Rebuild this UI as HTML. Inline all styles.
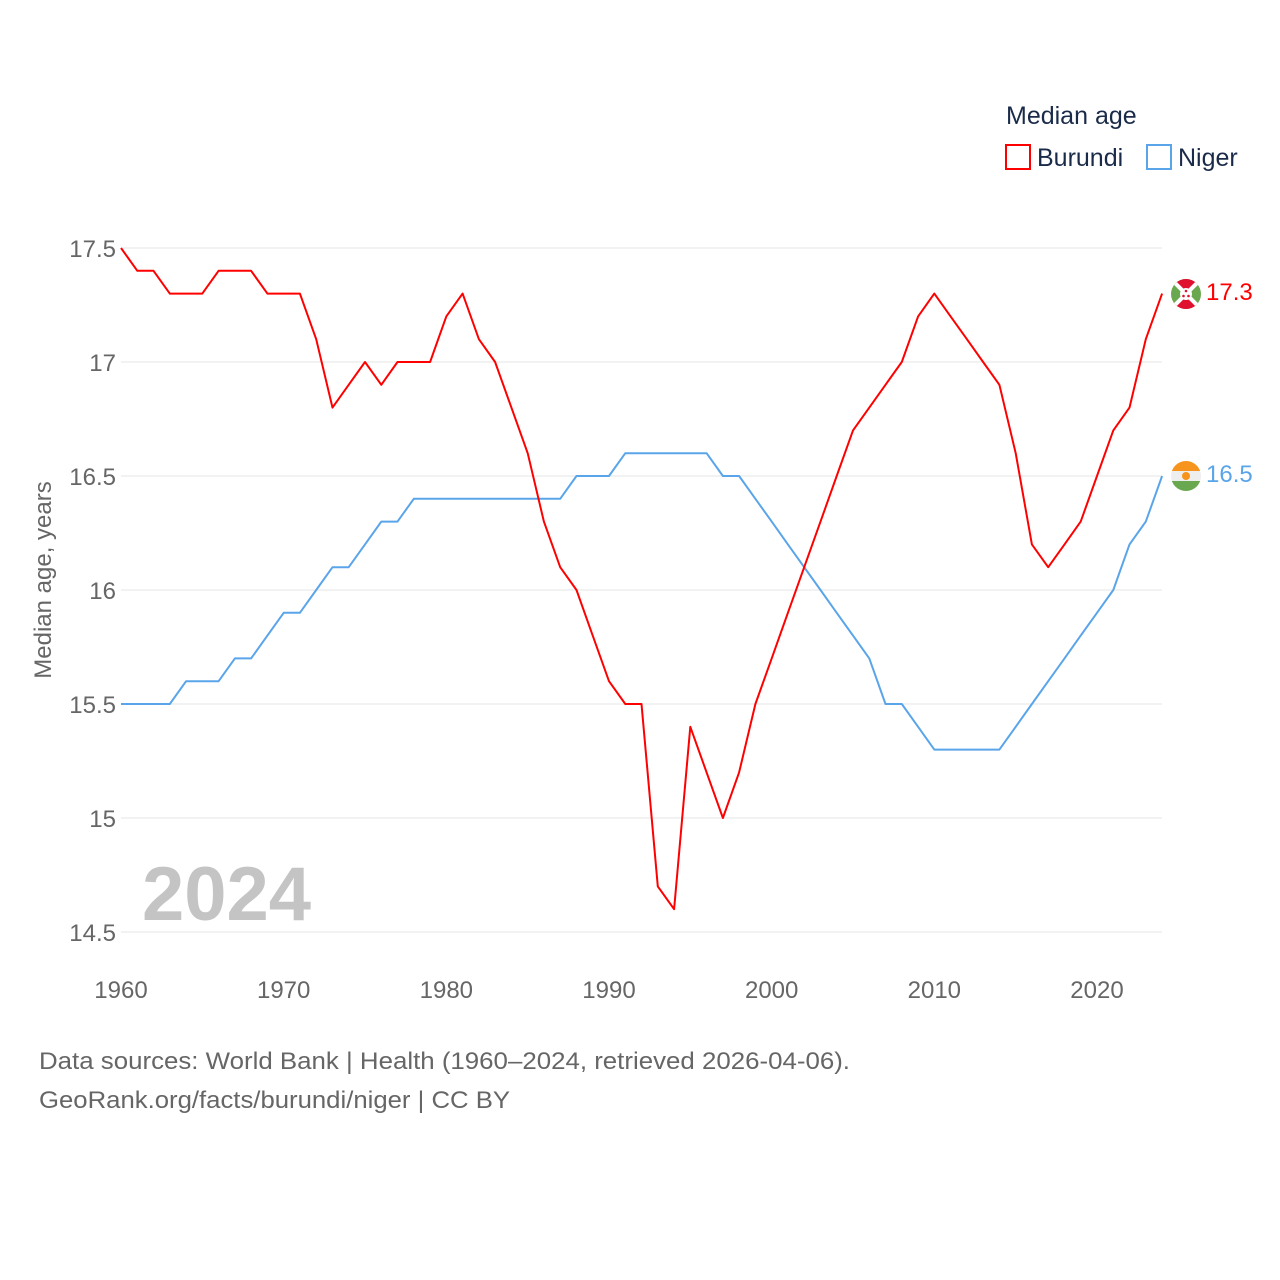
<!DOCTYPE html>
<html><head><meta charset="utf-8">
<style>
body{margin:0;background:#fff;font-family:"Liberation Sans",sans-serif;}
svg{display:block}
</style></head>
<body>
<svg id="chart" width="1280" height="1280" viewBox="0 0 1280 1280" xmlns="http://www.w3.org/2000/svg" font-family="Liberation Sans, sans-serif">
  <rect x="0" y="0" width="1280" height="1280" fill="#fff"/>
  <g>
    <text x="1006" y="124" font-size="25" fill="#1a2b4a">Median age</text>
    <g>
      <rect x="1006" y="145" width="24" height="24" fill="none" stroke="#ff0000" stroke-width="2"/>
      <text x="1037" y="166" font-size="25" fill="#1a2b4a">Burundi</text>
    </g>
    <g>
      <rect x="1147" y="145" width="24" height="24" fill="none" stroke="#5aa5ea" stroke-width="2"/>
      <text x="1178" y="166" font-size="25" fill="#1a2b4a">Niger</text>
    </g>
  </g>
  <g id="grid"></g>
  <g id="yticks"></g>
  <g id="xticks"></g>
  <text x="0" y="0" transform="translate(51,580) rotate(-90)" text-anchor="middle" font-size="24" fill="#666">Median age, years</text>
  <text x="142" y="920" font-size="76" font-weight="bold" fill="#c4c4c4">2024</text>
  <g id="series"></g>
  <g>
    <clipPath id="cb"><circle cx="1186" cy="294" r="15"/></clipPath>
    <g clip-path="url(#cb)">
      <rect x="1171" y="279" width="30" height="30" fill="#6aa84f"/>
      <polygon points="1171,279 1201,279 1186,294" fill="#e0102f"/>
      <polygon points="1171,309 1201,309 1186,294" fill="#e0102f"/>
      <line x1="1171" y1="279" x2="1201" y2="309" stroke="#fff" stroke-width="4"/>
      <line x1="1201" y1="279" x2="1171" y2="309" stroke="#fff" stroke-width="4"/>
      <circle cx="1186" cy="294" r="6" fill="#fff"/>
      <circle cx="1186" cy="291" r="1.3" fill="#e0102f"/>
      <circle cx="1183.5" cy="296" r="1.3" fill="#e0102f"/>
      <circle cx="1188.5" cy="296" r="1.3" fill="#e0102f"/>
    </g>
  </g>
  <g>
    <clipPath id="cn"><circle cx="1186" cy="476" r="15"/></clipPath>
    <g clip-path="url(#cn)">
      <rect x="1171" y="461" width="30" height="10" fill="#f7941d"/>
      <rect x="1171" y="471" width="30" height="10" fill="#eee"/>
      <rect x="1171" y="481" width="30" height="10" fill="#6aa84f"/>
      <circle cx="1186" cy="476" r="4" fill="#f7941d"/>
    </g>
  </g>
  <text x="1206" y="300" font-size="24" fill="#ff0000">17.3</text>
  <text x="1206" y="482" font-size="24" fill="#5aa5ea">16.5</text>
  <text x="39" y="1069" font-size="24" fill="#666" textLength="811" lengthAdjust="spacingAndGlyphs">Data sources: World Bank | Health (1960–2024, retrieved 2026-04-06).</text>
  <text x="39" y="1108" font-size="24" fill="#666" textLength="471" lengthAdjust="spacingAndGlyphs">GeoRank.org/facts/burundi/niger | CC BY</text>
</svg>
<script>
const years = [];
for (let y = 1960; y <= 2024; y++) years.push(y);
const burundi = [17.5,17.4,17.4,17.3,17.3,17.3,17.4,17.4,17.4,17.3,17.3,17.3,17.1,16.8,16.9,17.0,16.9,17.0,17.0,17.0,
17.2,17.3,17.1,17.0,16.8,16.6,16.3,16.1,16.0,15.8,15.6,15.5,15.5,14.7,14.6,15.4,15.2,15.0,15.2,15.5,
15.7,15.9,16.1,16.3,16.5,16.7,16.8,16.9,17.0,17.2,17.3,17.2,17.1,17.0,16.9,16.6,16.2,16.1,16.2,16.3,
16.5,16.7,16.8,17.1,17.3];
const niger = [15.5,15.5,15.5,15.5,15.6,15.6,15.6,15.7,15.7,15.8,15.9,15.9,16.0,16.1,16.1,16.2,16.3,16.3,16.4,16.4,
16.4,16.4,16.4,16.4,16.4,16.4,16.4,16.4,16.5,16.5,16.5,16.6,16.6,16.6,16.6,16.6,16.6,16.5,16.5,16.4,
16.3,16.2,16.1,16.0,15.9,15.8,15.7,15.5,15.5,15.4,15.3,15.3,15.3,15.3,15.3,15.4,15.5,15.6,15.7,15.8,
15.9,16.0,16.2,16.3,16.5];
const yTicks = [14.5,15,15.5,16,16.5,17,17.5];
const yTickLabels = ["14.5","15","15.5","16","16.5","17","17.5"];
const xTicks = [1960,1970,1980,1990,2000,2010,2020];

const NS = "http://www.w3.org/2000/svg";
const xS = yr => 121 + (yr - 1960) * (1097 - 121) / 60;
const yS = v => 248 + (17.5 - v) * 228;

const grid = document.getElementById('grid');
const yt = document.getElementById('yticks');
yTicks.forEach((v, i) => {
  const l = document.createElementNS(NS, 'line');
  l.setAttribute('x1', 121); l.setAttribute('x2', 1162);
  l.setAttribute('y1', yS(v)); l.setAttribute('y2', yS(v));
  l.setAttribute('stroke', '#e6e6e6'); l.setAttribute('stroke-width', '1');
  
  
  grid.appendChild(l);
  const t = document.createElementNS(NS, 'text');
  t.setAttribute('x', 116); t.setAttribute('y', yS(v) + 9);
  t.setAttribute('text-anchor', 'end'); t.setAttribute('font-size', '24'); t.setAttribute('fill', '#666');
  t.textContent = yTickLabels[i];
  
  
  yt.appendChild(t);
});
const xt = document.getElementById('xticks');
xTicks.forEach(yr => {
  const t = document.createElementNS(NS, 'text');
  t.setAttribute('x', xS(yr)); t.setAttribute('y', 998);
  t.setAttribute('text-anchor', 'middle'); t.setAttribute('font-size', '24'); t.setAttribute('fill', '#666');
  t.textContent = yr;
  
  
  xt.appendChild(t);
});
const series = document.getElementById('series');
function drawLine(vals, color, name) {
  const p = document.createElementNS(NS, 'polyline');
  p.setAttribute('points', vals.map((v, i) => xS(years[i]).toFixed(1) + ',' + yS(v).toFixed(1)).join(' '));
  p.setAttribute('fill', 'none'); p.setAttribute('stroke', color); p.setAttribute('stroke-width', '2');
  p.setAttribute('stroke-linejoin', 'round');
  
  
  series.appendChild(p);
}
drawLine(niger, '#5aa5ea', 'niger-line');
drawLine(burundi, '#ff0000', 'burundi-line');
</script>
</body></html>
